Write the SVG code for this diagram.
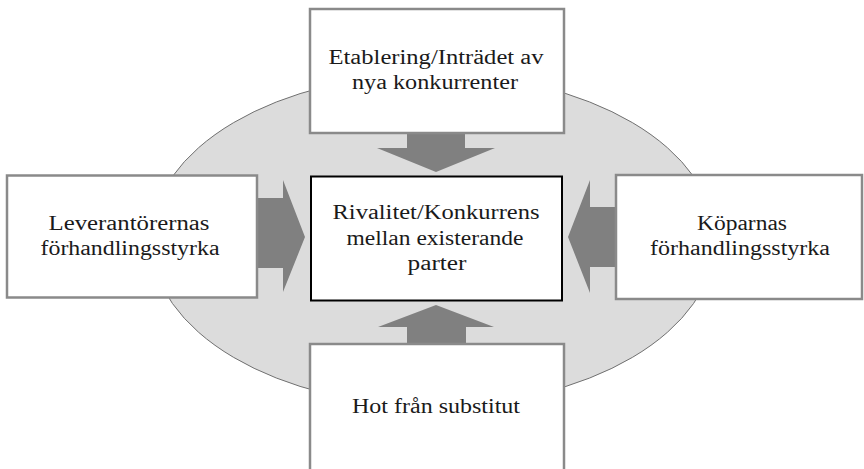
<svg xmlns="http://www.w3.org/2000/svg" width="864" height="469" viewBox="0 0 864 469">
  <style>
    .box { fill: #ffffff; stroke: #8a8a8a; stroke-width: 2.5; }
    .core { fill: #ffffff; stroke: #000000; stroke-width: 2; }
    .arrow { fill: #808080; }
    .lbl { font-family: "Liberation Serif", "DejaVu Serif", serif; font-size: 20px; fill: #1a1a1a; text-anchor: middle; }
  </style>

  <!-- background field -->
  <ellipse cx="433" cy="240" rx="282" ry="166" fill="#dcdcdc" stroke="#707070" stroke-width="1"/>

  <!-- block arrows pointing at the central box -->
  <g id="connectors">
    <polygon class="arrow" points="407,132 465,132 465,148 495,148 436,172 377,148 407,148"/>
    <polygon class="arrow" points="407,346 466,346 466,327 494,327 436,305 378,327 407,327"/>
    <polygon class="arrow" points="256,198 283,198 283,180 305,237 283,292 283,268 256,268"/>
    <polygon class="arrow" points="617,207 590,207 590,180 568,237 590,293 590,267 617,267"/>
  </g>

  <g id="entrants">
    <rect class="box" x="310" y="9" width="254" height="124"/>
    <text class="lbl" x="436" y="64" textLength="215" lengthAdjust="spacingAndGlyphs">Etablering/Inträdet av</text>
    <text class="lbl" x="435" y="89" textLength="166" lengthAdjust="spacingAndGlyphs">nya konkurrenter</text>
  </g>

  <g id="suppliers">
    <rect class="box" x="7" y="175.5" width="250" height="122"/>
    <text class="lbl" x="129" y="230" textLength="161" lengthAdjust="spacingAndGlyphs">Leverantörernas</text>
    <text class="lbl" x="130" y="255" textLength="179" lengthAdjust="spacingAndGlyphs">förhandlingsstyrka</text>
  </g>

  <g id="buyers">
    <rect class="box" x="616" y="175" width="246" height="124"/>
    <text class="lbl" x="742" y="230" textLength="90" lengthAdjust="spacingAndGlyphs">Köparnas</text>
    <text class="lbl" x="740" y="255" textLength="180" lengthAdjust="spacingAndGlyphs">förhandlingsstyrka</text>
  </g>

  <g id="substitutes">
    <rect class="box" x="310" y="344" width="254" height="130"/>
    <text class="lbl" x="436" y="413" textLength="168" lengthAdjust="spacingAndGlyphs">Hot från substitut</text>
  </g>

  <g id="rivalry">
    <rect class="core" x="311" y="176.5" width="251" height="124"/>
    <text class="lbl" x="436" y="219" textLength="207" lengthAdjust="spacingAndGlyphs">Rivalitet/Konkurrens</text>
    <text class="lbl" x="435" y="245" textLength="177" lengthAdjust="spacingAndGlyphs">mellan existerande</text>
    <text class="lbl" x="437" y="270" textLength="59" lengthAdjust="spacingAndGlyphs">parter</text>
  </g>
</svg>
